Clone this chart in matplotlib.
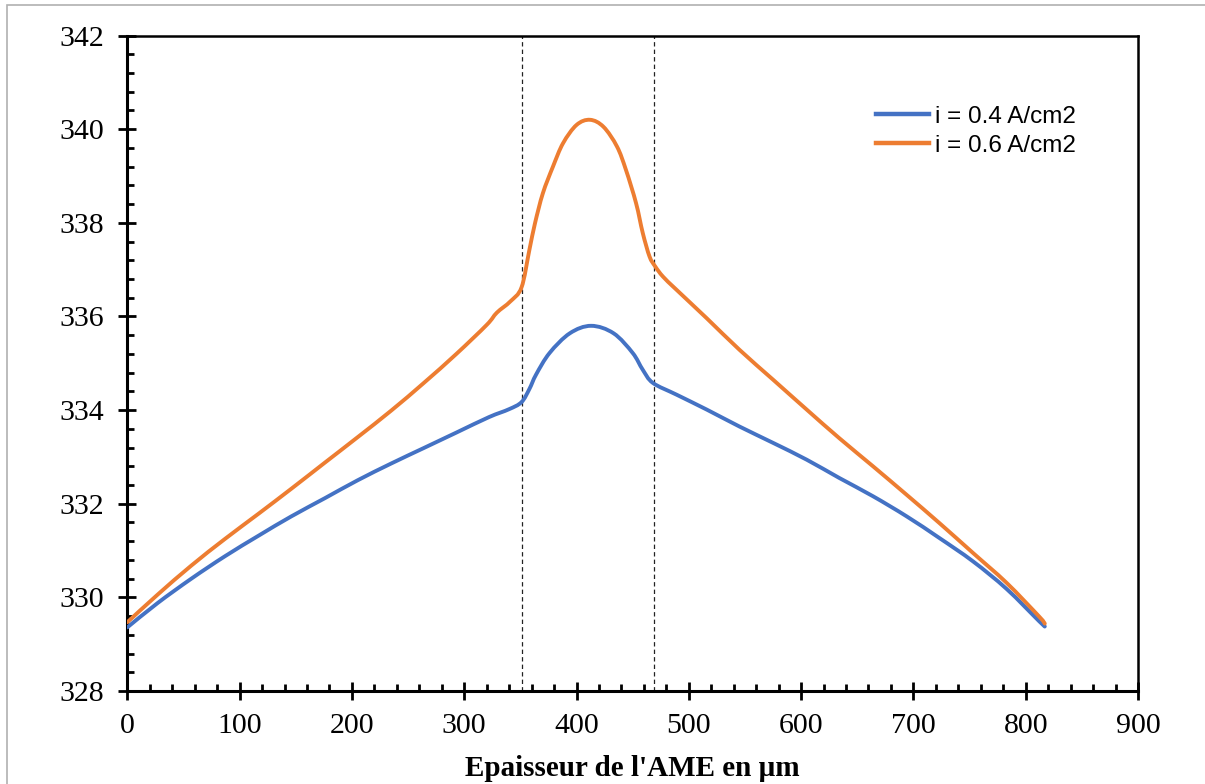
#!/usr/bin/env python3
# -*- coding: utf-8 -*-
"""
Temperature profile across the MEA thickness for two current densities.
Writes out.png.
"""

import matplotlib
matplotlib.use("Agg")
import matplotlib.pyplot as plt
import numpy as np
from matplotlib.lines import Line2D
from matplotlib.patches import PathPatch, Rectangle
from matplotlib.path import Path
from matplotlib.ticker import MultipleLocator

# ─── data ─────────────────────────────────────────────────────────────────────

x_04 = [0, 27, 57, 87, 117, 146, 176, 205, 235, 264, 293, 322, 340, 351,
        358, 364, 376, 394, 413, 433, 450, 459, 468, 489, 516, 545, 575,
        605, 634, 664, 694, 723, 753, 783, 812, 817]
t_04 = [329.36, 329.88, 330.40, 330.88, 331.32, 331.73, 332.12, 332.50,
        332.86, 333.19, 333.52, 333.85, 334.02, 334.17, 334.45, 334.76,
        335.22, 335.64, 335.80, 335.64, 335.22, 334.86, 334.58, 334.33,
        334.01, 333.65, 333.30, 332.94, 332.55, 332.16, 331.73, 331.27,
        330.77, 330.18, 329.49, 329.38]

x_06 = [0, 27, 57, 87, 117, 146, 176, 205, 235, 264, 293, 320, 329, 341,
        351, 358, 363, 370, 379, 388, 400, 412, 424, 436, 444, 453, 459,
        465, 470, 477, 489, 516, 545, 575, 605, 634, 664, 694, 723, 753,
        783, 812, 817]
t_06 = [329.47, 330.06, 330.68, 331.25, 331.79, 332.32, 332.88, 333.42,
        333.99, 334.58, 335.20, 335.82, 336.08, 336.32, 336.62, 337.42,
        337.99, 338.63, 339.20, 339.70, 340.09, 340.20, 340.05, 339.63,
        339.13, 338.42, 337.78, 337.28, 337.07, 336.85, 336.57, 335.96,
        335.29, 334.65, 334.01, 333.40, 332.80, 332.19, 331.59, 330.95,
        330.31, 329.59, 329.44]

# layer boundaries (membrane)
x_bounds = [351, 469]

labels = ["i = 0.4 A/cm2", "i = 0.6 A/cm2"]
colors = ["#4472C4", "#ED7D31"]


# ─── helpers ──────────────────────────────────────────────────────────────────

def smooth_path(xs, ys, k=1 / 6):
    """Bezier path through every point (Excel-style smoothed line)."""
    p = np.column_stack([xs, ys]).astype(float)
    n = len(p)
    verts = [p[0]]
    codes = [Path.MOVETO]
    for i in range(n - 1):
        p0 = p[max(i - 1, 0)]
        p1, p2 = p[i], p[i + 1]
        p3 = p[min(i + 2, n - 1)]
        c1 = p1 + (p2 - p0) * k
        c2 = p2 - (p3 - p1) * k
        verts += [c1, c2, p2]
        codes += [Path.CURVE4] * 3
    return Path(verts, codes)


# ─── figure ───────────────────────────────────────────────────────────────────

serif = ["Liberation Serif", "DejaVu Serif"]
plt.rcParams["font.family"] = serif

fig = plt.figure(figsize=(12.05, 7.84), dpi=100)
ax = fig.add_axes([0.1057, 0.1186, 0.8387, 0.8361])

# thin grey frame round the whole chart area
fig.patches.append(Rectangle((7 / 1205, -0.01), 1.02, 1 - 5 / 784 + 0.01,
                             transform=fig.transFigure, fill=False,
                             edgecolor="#b0b0b0", linewidth=1.2))

for xb in x_bounds:
    ax.axvline(xb, color="#222222", linewidth=0.9, dashes=(3.5, 2.5), zorder=1)

for xs, ys, c in [(x_04, t_04, colors[0]), (x_06, t_06, colors[1])]:
    ax.add_patch(PathPatch(smooth_path(xs, ys), facecolor="none",
                           edgecolor=c, linewidth=2.8, capstyle="round",
                           joinstyle="round", zorder=3))

ax.set_xlim(0, 900)
ax.set_ylim(328, 342)
ax.xaxis.set_major_locator(MultipleLocator(100))
ax.xaxis.set_minor_locator(MultipleLocator(20))
ax.yaxis.set_major_locator(MultipleLocator(2))
ax.yaxis.set_minor_locator(MultipleLocator(0.4))

ax.tick_params(which="major", direction="inout", length=13, width=2,
               labelsize=21.5, pad=9.5)
ax.tick_params(which="minor", direction="in", length=5, width=2)
ax.tick_params(axis="y", which="major", pad=10)
for lbl in ax.get_xticklabels() + ax.get_yticklabels():
    lbl.set_family(serif)

for side in ["left", "bottom"]:
    ax.spines[side].set_linewidth(2.2)
for side in ["top", "right"]:
    ax.spines[side].set_linewidth(1.8)

ax.set_xlabel("Epaisseur de l'AME en µm", fontsize=21, fontweight="bold",
              family=serif, labelpad=11)

handles = [Line2D([], [], color=c, linewidth=3.2) for c in colors]
ax.legend(handles, labels, loc="upper left", bbox_to_anchor=(0.7405, 0.893),
          frameon=False, prop={"family": "Liberation Sans", "size": 17.5},
          handlelength=2.2, handletextpad=0.25, labelspacing=0.3,
          borderpad=0, borderaxespad=0)

fig.savefig("out.png", dpi=100)
